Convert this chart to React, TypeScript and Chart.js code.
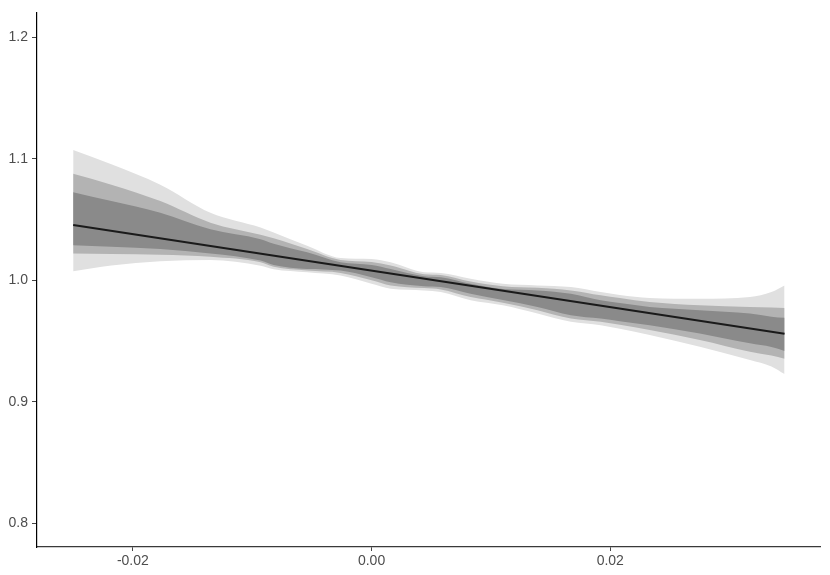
import React, { useEffect, useRef } from "react";
import { Chart, registerables } from "chart.js";

Chart.register(...registerables);

const bandX = [-0.025, -0.0218, -0.0177, -0.0135, -0.0093, -0.0082, -0.0054, -0.0026, 0.0, 0.0016, 0.0044, 0.0058, 0.0083, 0.011, 0.0139, 0.0167, 0.0192, 0.0208, 0.0233, 0.0275, 0.0317, 0.0335, 0.0346];

const outerUpper = [1.1072, 1.0955, 1.0786, 1.0555, 1.0433, 1.0392, 1.0283, 1.0182, 1.0174, 1.0147, 1.0065, 1.006, 1.0011, 0.997, 0.9957, 0.9943, 0.9902, 0.9878, 0.9853, 0.9847, 0.9861, 0.9902, 0.9957];
const outerLower = [1.0073, 1.012, 1.0155, 1.0166, 1.0118, 1.009, 1.0065, 1.0038, 0.997, 0.9929, 0.9916, 0.9902, 0.9834, 0.9793, 0.9725, 0.9657, 0.963, 0.96, 0.9549, 0.9453, 0.9344, 0.929, 0.9227];
const midUpper = [1.0876, 1.0786, 1.0651, 1.0473, 1.0373, 1.0345, 1.0256, 1.0166, 1.015, 1.012, 1.0049, 1.0043, 0.9989, 0.9951, 0.9937, 0.9916, 0.9875, 0.9853, 0.982, 0.9793, 0.978, 0.9775, 0.9771];
const midLower = [1.022, 1.0215, 1.021, 1.0193, 1.0147, 1.011, 1.0079, 1.006, 1.0, 0.9957, 0.9935, 0.9924, 0.9861, 0.9815, 0.9753, 0.9684, 0.9657, 0.9633, 0.9589, 0.9508, 0.9412, 0.938, 0.9353];
const darkUpper = [1.0724, 1.0651, 1.0555, 1.0419, 1.0337, 1.03, 1.0229, 1.0147, 1.0125, 1.0092, 1.0033, 1.0024, 0.997, 0.9927, 0.9916, 0.9888, 0.9834, 0.9812, 0.978, 0.9753, 0.9725, 0.97, 0.969];
const darkLower = [1.0288, 1.0275, 1.0256, 1.022, 1.0161, 1.0125, 1.0092, 1.0079, 1.0025, 0.9984, 0.9951, 0.9943, 0.9888, 0.9837, 0.978, 0.9712, 0.9684, 0.9663, 0.963, 0.9562, 0.948, 0.945, 0.9418];

const lineX = [-0.025, 0.0346];
const lineY = [1.0455, 0.956];

const xTicks = [-0.02, 0.0, 0.02];
const yTicks = [0.8, 0.9, 1.0, 1.1, 1.2];

const toPts = (xs: number[], ys: number[]) => xs.map((x, i) => ({ x, y: ys[i] }));

export default function App() {
  const ref = useRef<HTMLCanvasElement | null>(null);
  useEffect(() => {
    if (!ref.current) return;
    const font = { family: "'Liberation Sans', Arial, sans-serif", size: 14 };
    const band = (data: any, color: string, fill: any, order: number) => ({
      data,
      borderWidth: 0,
      borderColor: "rgba(0,0,0,0)",
      backgroundColor: color,
      pointRadius: 0,
      cubicInterpolationMode: "monotone",
      fill,
      order,
    });
    const chart = new Chart(ref.current, {
      type: "line",
      data: {
        datasets: [
          band(toPts(bandX, outerUpper), "#e0e0e0", 1, 3),
          band(toPts(bandX, outerLower), "#e0e0e0", false, 3),
          band(toPts(bandX, midUpper), "#b3b3b3", 3, 2),
          band(toPts(bandX, midLower), "#b3b3b3", false, 2),
          band(toPts(bandX, darkUpper), "#8a8a8a", 5, 1),
          band(toPts(bandX, darkLower), "#8a8a8a", false, 1),
          {
            data: toPts(lineX, lineY),
            borderColor: "#1a1a1a",
            borderWidth: 2,
            pointRadius: 0,
            fill: false,
            order: 0,
          } as any,
        ],
      },
      options: {
        animation: false,
        responsive: true,
        maintainAspectRatio: false,
        layout: { padding: { top: 8, right: 10, left: 0, bottom: 0 } },
        plugins: { legend: { display: false }, tooltip: { enabled: false } },
        scales: {
          x: {
            type: "linear",
            min: -0.02803,
            max: 0.03757,
            afterBuildTicks: (s: any) => {
              s.ticks = xTicks.map((v) => ({ value: v }));
            },
            afterFit: (s: any) => {
              s.height = 28;
            },
            ticks: {
              font,
              color: "#4d4d4d",
              padding: 2,
              maxRotation: 0,
              callback: (v: any) => Number(v).toFixed(2),
            },
            grid: { drawOnChartArea: false, drawTicks: true, tickLength: 4, color: "#444444" },
            border: { display: true, color: "#3a3a3a", width: 1.3 },
          },
          y: {
            type: "linear",
            min: 0.7804,
            max: 1.2204,
            afterBuildTicks: (s: any) => {
              s.ticks = yTicks.map((v) => ({ value: v }));
            },
            afterFit: (s: any) => {
              s.width = 37;
            },
            ticks: {
              font,
              color: "#4d4d4d",
              padding: 4,
              callback: (v: any) => Number(v).toFixed(1),
            },
            grid: { drawOnChartArea: false, drawTicks: true, tickLength: 5, color: "#444444" },
            border: { display: true, color: "#000000", width: 1.2 },
          },
        },
      } as any,
    });
    return () => chart.destroy();
  }, []);
  return (
    <div style={{ position: "fixed", left: 0, top: 0, width: 830, height: 575, background: "#fff" }}>
      <canvas ref={ref} />
    </div>
  );
}
